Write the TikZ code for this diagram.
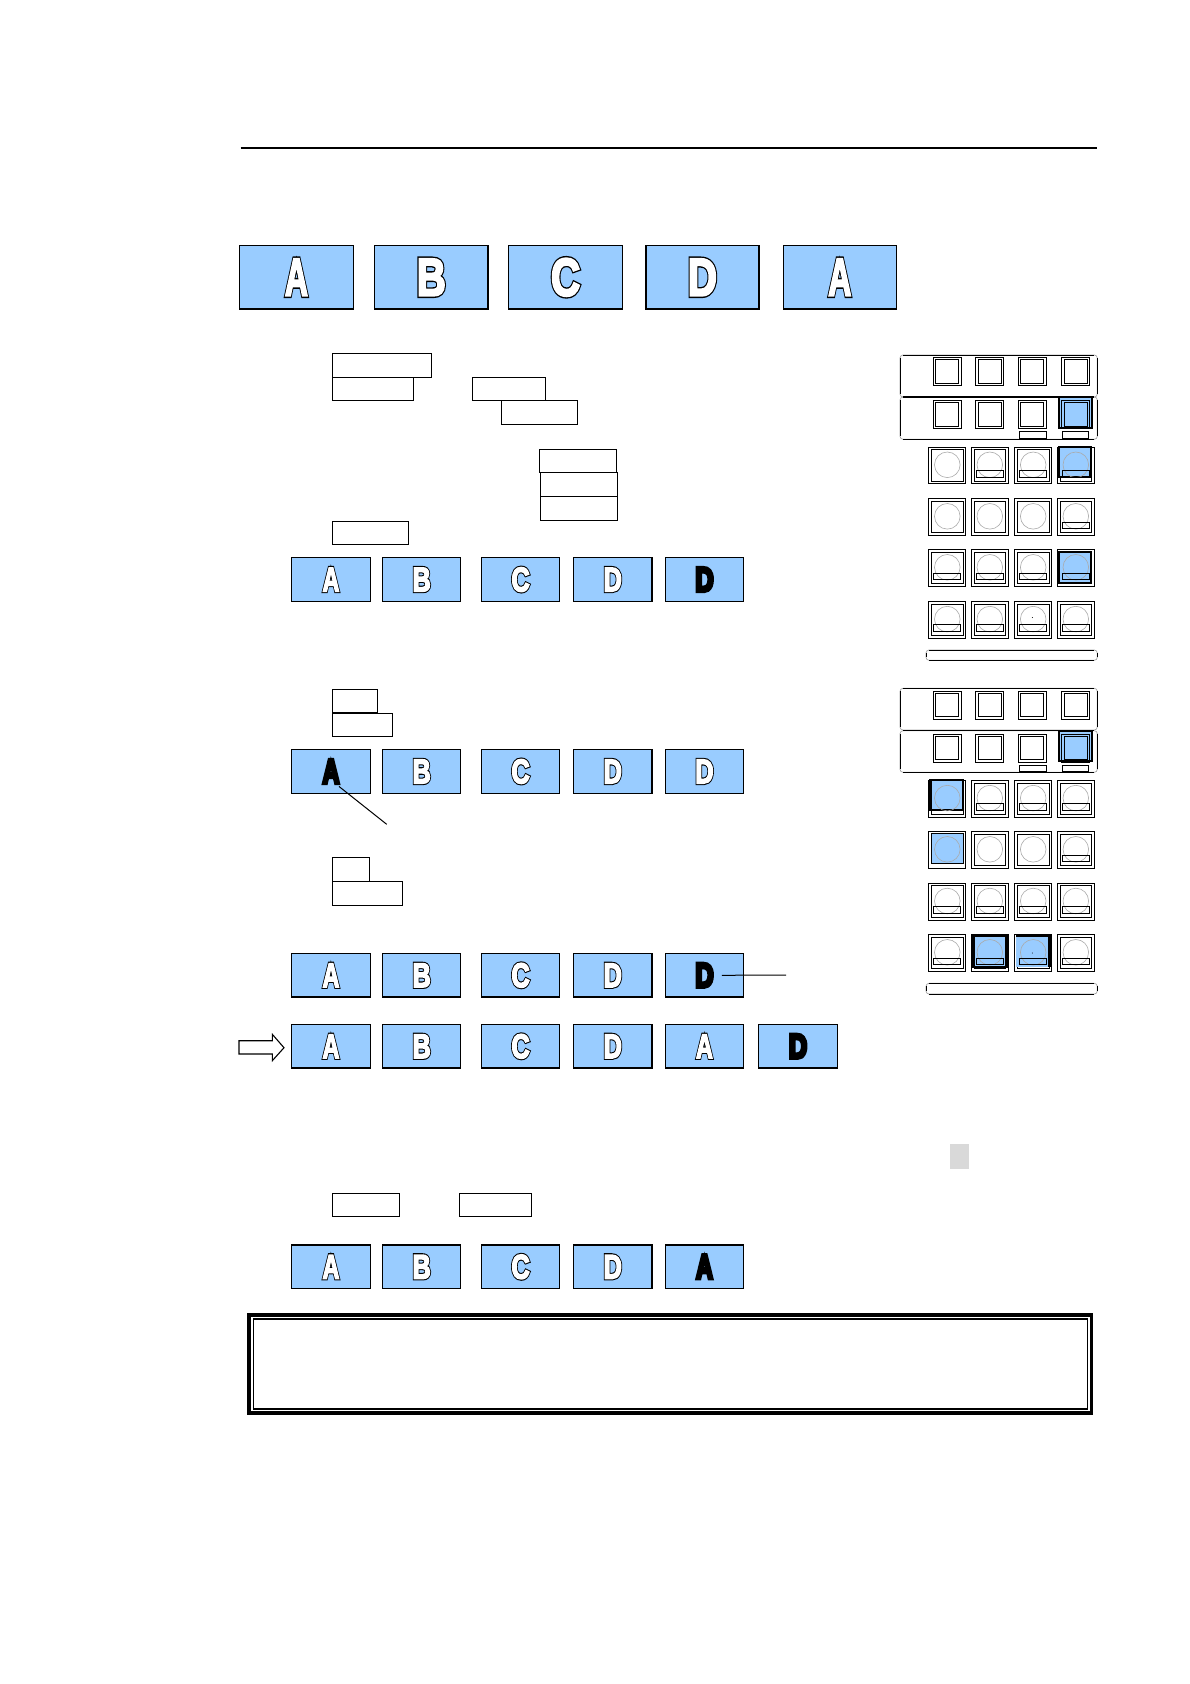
\documentclass[tikz,border=0pt]{standalone}
\usepackage{graphicx}
\usepackage{fontspec}
\setmainfont{Liberation Sans}
\definecolor{keyblue}{RGB}{153,204,255}
\definecolor{ringgray}{RGB}{170,170,170}
\newcommand{\outl}[1]{\rlap{\special{pdf:code 2 Tr \ob\space w 0 G 0 g}#1}\special{pdf:code 2 Tr \ow\space w 1 G 1 g}#1\special{pdf:code 0 Tr 0 G 0 g}}
\newcommand{\solid}[1]{\special{pdf:code 2 Tr \ob\space w 0 G 0 g}#1\special{pdf:code 0 Tr}}
\newcommand{\biglet}[2]{\def\ow{2.4}\def\ob{5.2}\scalebox{#1}[1]{\fontsize{53}{53}\bfseries #2}}
\newcommand{\smlet}[2]{\def\ow{1.7}\def\ob{3.9}\scalebox{#1}[1]{\fontsize{34}{34}\bfseries #2}}
% name x1 y1 x2 y2 content
\newcommand{\bluekey}[6]{\draw[bluekeystyle] (#2,#3) rectangle (#4,#5) node[midway,name=#1,letterstyle]{#6};}
\newcommand{\whitebox}[5]{\draw[whiteboxstyle] (#2,#3) rectangle (#4,#5) node[midway,name=#1]{};}
\newcommand{\keyrow}[7]{%
 \bluekey{#1a}{291.7}{#2}{370.3}{#3}{#4}
 \bluekey{#1b}{382.7}{#2}{460.7}{#3}{#5}
 \bluekey{#1c}{481.6}{#2}{559.6}{#3}{\smlet{.74}{\outl{C}}}
 \bluekey{#1d}{573.5}{#2}{652}{#3}{#6}
 \bluekey{#1e}{665.6}{#2}{743.3}{#3}{#7}}
% square key
\newcommand{\sqkey}[2]{%
 \draw[line width=.9pt] (#1-14,#2-14) rectangle (#1+14,#2+14);
 \draw[line width=.9pt] (#1-11.6,#2-11.6) rectangle (#1+11.6,#2+11.6);}
% round key frame
\newcommand{\frmkey}[2]{%
 \draw[line width=.9pt] (#1-18.4,#2-18.4) rectangle (#1+18.4,#2+18.4);
 \draw[line width=.9pt] (#1-15.8,#2-15.8) rectangle (#1+15.8,#2+15.8);}
\newcommand{\ringkey}[2]{\draw[ringgray,line width=.6pt] (#1,#2-.7) circle (12.8);}
\newcommand{\barkey}[2]{\draw[line width=.9pt] (#1-13.4,#2+5) rectangle (#1+13.4,#2+11.6);}
\newcommand{\plainkey}[2]{\frmkey{#1}{#2}\ringkey{#1}{#2}}
\newcommand{\barredkey}[2]{\frmkey{#1}{#2}\ringkey{#1}{#2}\barkey{#1}{#2}}
% panel outline: light rounded corners, black straight edges
\newcommand{\panelbox}[4]{%
 \draw[black!35,line width=.7pt,rounded corners=3pt] (#1,#2) rectangle (#3,#4);
 \draw[line width=1pt] (#1+3,#2) -- (#3-3,#2) (#1+3,#4) -- (#3-3,#4) (#1,#2+3) -- (#1,#4-3) (#3,#2+3) -- (#3,#4-3);}
\tikzset{
 bluekeystyle/.style={draw=black,fill=keyblue,line width=1.5pt},
 letterstyle/.style={inner sep=0pt,outer sep=0pt},
 whiteboxstyle/.style={draw=black,fill=white,line width=1pt},
 hilite/.style={draw=black,fill=keyblue,line width=2.2pt},
 plainline/.style={draw=black,line width=1pt}
}
\begin{document}
\begin{tikzpicture}[x=1pt,y=-1pt]
\useasboundingbox (0,0) rectangle (1190,1684);
% top rule
\coordinate (ruleL) at (240.6,148);
\coordinate (ruleR) at (1097,148);
\draw[line width=1.5pt] (ruleL) -- (ruleR);
% top row
\bluekey{ta}{239.6}{245.6}{353.3}{309}{\biglet{.6}{\outl{A}}}
\bluekey{tb}{374.6}{245.6}{488}{309}{\biglet{.76}{\outl{B}}}
\bluekey{tc}{508.6}{245.6}{622.5}{309}{\biglet{.76}{\outl{C}}}
\bluekey{td}{645.8}{245.6}{759}{309}{\biglet{.76}{\outl{D}}}
\bluekey{te}{783.3}{245.6}{896.3}{309}{\biglet{.6}{\outl{A}}}
% labels
\whitebox{w1}{332}{353.3}{431.5}{377}
\whitebox{w2}{332}{377}{413.5}{400.6}
\whitebox{w3}{472.5}{377}{545.6}{400.6}
\whitebox{w4}{501.6}{400.6}{577.8}{424}
\whitebox{w5}{539}{449}{616.5}{472.5}
\whitebox{w6}{540}{472.5}{617.5}{496}
\whitebox{w7}{540}{496}{617.5}{520.5}
\whitebox{w8}{332}{521}{408.5}{544.5}
\whitebox{w9}{332.3}{689.3}{377.3}{712.7}
\whitebox{w10}{332.3}{713.3}{392}{736.3}
\whitebox{w11}{332.3}{857.3}{369.3}{881}
\whitebox{w12}{332.3}{881.5}{402.5}{905.4}
\whitebox{w13}{332.3}{1193.5}{399.5}{1216.5}
\whitebox{w14}{459.6}{1193.5}{531.6}{1216.5}
% key rows
\keyrow{ra}{557.7}{601.4}{\smlet{.68}{\outl{A}}}{\smlet{.74}{\outl{B}}}{\smlet{.74}{\outl{D}}}{\smlet{.74}{\solid{D}}}
\keyrow{rb}{749.6}{793.3}{\smlet{.68}{\solid{A}}}{\smlet{.74}{\outl{B}}}{\smlet{.74}{\outl{D}}}{\smlet{.74}{\outl{D}}}
\keyrow{rc}{953.6}{997}{\smlet{.68}{\outl{A}}}{\smlet{.74}{\outl{B}}}{\smlet{.74}{\outl{D}}}{\smlet{.74}{\solid{D}}}
\keyrow{rd}{1024.6}{1068}{\smlet{.68}{\outl{A}}}{\smlet{.74}{\outl{B}}}{\smlet{.74}{\outl{D}}}{\smlet{.68}{\outl{A}}}
\bluekey{rdf}{758.7}{1024.6}{837.3}{1068}{\smlet{.74}{\solid{D}}}
\keyrow{re}{1245}{1288.6}{\smlet{.68}{\outl{A}}}{\smlet{.74}{\outl{B}}}{\smlet{.74}{\outl{D}}}{\smlet{.68}{\solid{A}}}
% leader lines
\coordinate (tickS) at ([shift={(8,15)}]rba.center);
\coordinate (tickE) at (386.7,824.3);
\draw[plainline] (tickS) -- (tickE);
\coordinate (leadS) at ([shift={(17.5,0)}]rce.center);
\coordinate (leadE) at (786,975);
\draw[plainline] (leadS) -- (leadE);
% arrow
\draw[line width=1.1pt,fill=white] (239,1040.7) -- (272.3,1040.7) -- (272.3,1034.3) -- (284,1047.7) -- (272.3,1060.7) -- (272.3,1054) -- (239,1054) -- cycle;
% grey mark
\fill[black!15] (950,1144) rectangle (968.5,1168.5);
% double box
\draw[line width=3.4pt] (249,1315) rectangle (1091.5,1413);
\draw[line width=1.3pt] (253.5,1319) rectangle (1087.5,1409);
% ---- panel 1
\panelbox{900}{355}{1097.3}{397}
\panelbox{900}{397}{1097.3}{439.3}
\draw[line width=1.6pt] (903,397) -- (1094.3,397);
\foreach \x in {947.3,989.8,1032.3,1075.7}{\sqkey{\x}{371.5}}
\foreach \x in {947.3,989.8,1032.3}{\sqkey{\x}{414.5}}
\draw[hilite] (1059,397.3) rectangle (1091.7,427.7);
\sqkey{1075.7}{414.5}
\draw[whiteboxstyle] (1019.3,431.7) rectangle (1046.7,438.7);
\draw[whiteboxstyle] (1062.3,431.7) rectangle (1088.7,438.7);
\plainkey{947.3}{465.5}
\barredkey{989.8}{465.5}\barredkey{1033.2}{465.5}
\frmkey{1075.8}{465.5}
\draw[hilite] (1059.3,447) rectangle (1091.3,476.7);
\ringkey{1075.8}{465.5}\barkey{1075.8}{465.5}
\plainkey{947.3}{517}\plainkey{989.8}{517}\plainkey{1033.2}{517}\barredkey{1075.8}{517}
\barredkey{947.3}{568}\barredkey{989.8}{568}\barredkey{1033.2}{568}
\frmkey{1075.8}{568}
\draw[hilite] (1059,552) rectangle (1091.3,582.7);
\ringkey{1075.8}{568}\barkey{1075.8}{568}
\barredkey{947.3}{619.8}\barredkey{989.8}{619.8}\barredkey{1033.2}{619.8}\barredkey{1075.8}{619.8}
\fill (1032.3,617.5) circle (.5);
\panelbox{926}{650}{1097.3}{660.3}
% ---- panel 2
\panelbox{900}{688.3}{1097.3}{730}
\panelbox{900}{730.7}{1097.3}{772.3}
\foreach \x in {947.3,989.8,1032.3,1075.7}{\sqkey{\x}{705}}
\foreach \x in {947.3,989.8,1032.3}{\sqkey{\x}{748}}
\draw[hilite] (1059,730.7) rectangle (1091.7,760.7);
\sqkey{1075.7}{748}
\draw[whiteboxstyle] (1019.3,765.7) rectangle (1046.7,771.7);
\draw[whiteboxstyle] (1062.3,765.7) rectangle (1088.7,771.7);
\frmkey{947.3}{798.8}
\draw[hilite] (930.5,780) rectangle (962.7,810);
\ringkey{947.3}{798.8}
\barredkey{989.8}{798.8}\barredkey{1033.2}{798.8}\barredkey{1075.8}{798.8}
\draw[line width=.9pt] (928.9,831.6) rectangle (965.7,868.4);
\draw[line width=.9pt,fill=keyblue] (931.2,833.5) rectangle (963.3,863);
\ringkey{947.3}{850}
\plainkey{989.8}{850}\plainkey{1033.2}{850}\barredkey{1075.8}{850}
\barredkey{947.3}{901.7}\barredkey{989.8}{901.7}\barredkey{1033.2}{901.7}\barredkey{1075.8}{901.7}
\barredkey{947.3}{953}
\frmkey{989.8}{953}
\draw[hilite] (973.5,936.3) rectangle (1006.5,967.3);
\ringkey{989.8}{953}\barkey{989.8}{953}
\frmkey{1033.2}{953}
\fill[keyblue] (1016,936.3) rectangle (1049.5,967.3);
\draw[line width=2.2pt] (1016,936.3) -- (1049.5,936.3) -- (1049.5,967.3);
\ringkey{1033.2}{953}\barkey{1033.2}{953}
\fill (1032.3,953) circle (.5);
\barredkey{1075.8}{953}
\panelbox{926}{983.3}{1097.3}{994}
\end{tikzpicture}
\end{document}
